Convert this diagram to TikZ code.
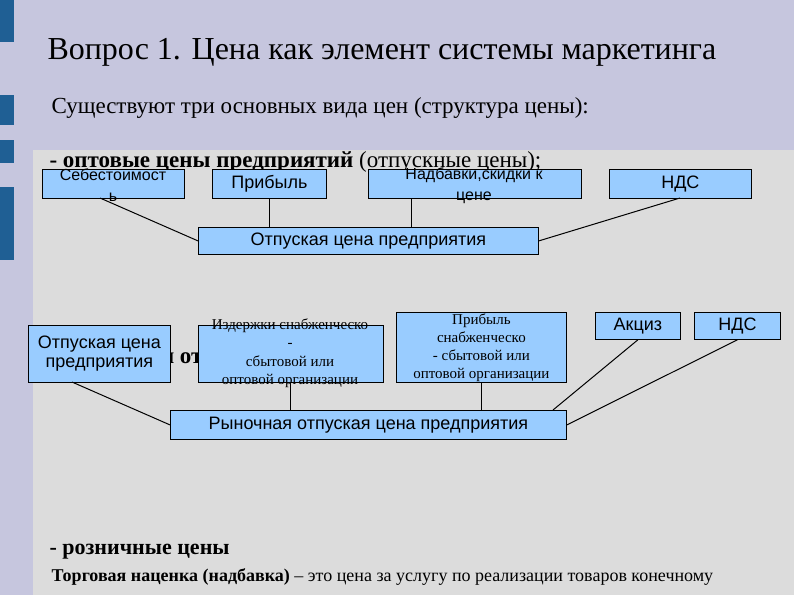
\documentclass[tikz,border=0pt]{standalone}
\usepackage{fontspec}
\setmainfont{Liberation Serif}
\newfontfamily\boxsans{Liberation Sans}
\begin{document}
\begin{tikzpicture}[x=1pt,y=-1pt,
  bx/.style={draw=black,fill=bxfill,line width=0.8pt,inner sep=0pt,align=center,font=\boxsans\fontsize{18}{19}\selectfont},
  sbx/.style={bx,font=\fontsize{15}{18}\selectfont},
  tx/.style={inner sep=0pt,align=center,font=\boxsans\fontsize{18}{21}\selectfont},
  ln/.style={line width=1pt}]
\definecolor{bxfill}{HTML}{99CCFF}
\definecolor{topbg}{HTML}{C6C6DE}
\definecolor{panel}{HTML}{DCDCDC}
\definecolor{bar}{HTML}{1F5F94}
\useasboundingbox (0,0) rectangle (794,595);
\fill[topbg] (0,0) rectangle (794,595);
\fill[panel] (33,150) rectangle (794,595);
\fill[bar] (0,0) rectangle (14,42);
\fill[bar] (0,95) rectangle (14,125);
\fill[bar] (0,140) rectangle (14,163);
\fill[bar] (0,187) rectangle (14,260);
\node[anchor=west,font=\fontsize{32}{32}\selectfont] (title) at (44,52) {Вопрос 1. Цена как элемент системы маркетинга};
\node[anchor=west,font=\fontsize{23}{23}\selectfont] (sub) at (48,108) {Существуют три основных вида цен (структура цены):};
\node[anchor=west,font=\fontsize{23}{23}\selectfont] (opt) at (46,162) {\textbf{- оптовые цены предприятий} (отпускные цены);};
\node[anchor=east,font=\bfseries\fontsize{23}{23}\selectfont] (hid) at (206,360) {цены от};
% top row
\node[bx,minimum width=142,minimum height=29,anchor=north west] (s1) at (42,169) {};
\node[tx,font=\boxsans\fontsize{16}{21}\selectfont] (s1t) at (113,185) {Себестоимост\\ь};
\node[bx,minimum width=114,minimum height=29,anchor=north west] (s2) at (212,169) {Прибыль};
\node[bx,minimum width=213,minimum height=29,anchor=north west] (s3) at (368,169) {};
\node[tx,font=\boxsans\fontsize{16}{21}\selectfont] (s3t) at (474,186) {Надбавки,скидки к\\цене};
\node[bx,minimum width=142,minimum height=29,anchor=north west] (s4) at (609,169) {НДС};
\node[bx,minimum width=340,minimum height=27,anchor=north west] (otp) at (198,227) {Отпуская цена предприятия};
\draw[ln] (100,198) -- (otp.west);
\draw[ln] (s2.south) -- (s2.south|-otp.north);
\draw[ln] (411,198) -- (411,227);
\draw[ln] (680,198) -- (otp.east);
% second row
\node[bx,minimum width=142,minimum height=57,anchor=north west] (r1) at (28,325) {Отпуская цена\\предприятия};
\node[bx,minimum width=185,minimum height=57,anchor=north west] (r2) at (198,325) {};
\node[tx,font=\fontsize{15}{18.5}\selectfont] (r2t) at (290,353) {Издержки снабженческо\\-\\сбытовой или\\оптовой организации};
\node[sbx,minimum width=170,minimum height=70,anchor=north west] (r3) at (396,312) {Прибыль\\снабженческо\\- сбытовой или\\оптовой организации};
\node[bx,minimum width=85,minimum height=27,anchor=north west] (r4) at (595,312) {Акциз};
\node[bx,minimum width=86,minimum height=27,anchor=north west] (r5) at (694,312) {НДС};
\node[bx,minimum width=396,minimum height=29,anchor=north west] (ryn) at (170,410) {Рыночная отпуская цена предприятия};
\draw[ln] (72,382) -- (ryn.west);
\draw[ln] (r2.south) -- (r2.south|-ryn.north);
\draw[ln] (r3.south) -- (r3.south|-ryn.north);
\draw[ln] (r4.south) -- (553,410);
\draw[ln] (r5.south) -- (ryn.east);
% bottom
\node[anchor=west,font=\bfseries\fontsize{22}{22}\selectfont] (rozn) at (46,552) {- розничные цены};
\node[anchor=west,font=\fontsize{18}{18}\selectfont] (torg) at (48,577) {\textbf{Торговая наценка (надбавка)} – это цена за услугу по реализации товаров конечному};
\end{tikzpicture}
\end{document}
